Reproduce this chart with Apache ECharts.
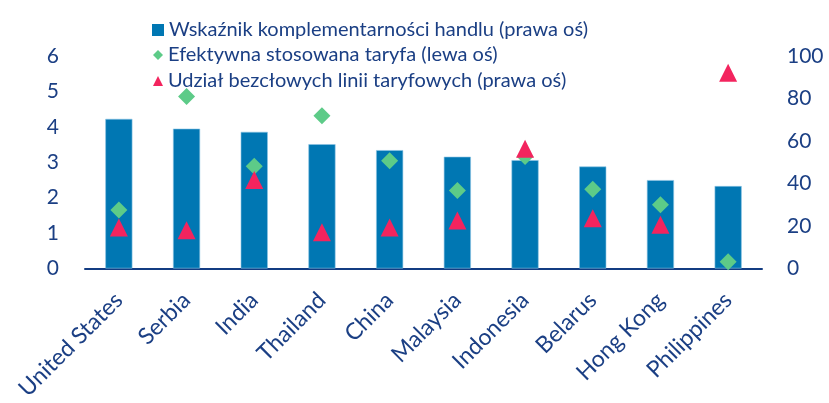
<!DOCTYPE html>
<html><head><meta charset="utf-8">
<script src="https://cdn.jsdelivr.net/npm/echarts@6/dist/echarts.min.js"></script>
<style>html,body{margin:0;padding:0;background:#fff}#c{width:829px;height:403px}</style>
</head><body><div id="c"></div>
<script>
const categories = ['United States','Serbia','India','Thailand','China','Malaysia','Indonesia','Belarus','Hong Kong','Philippines'];
const complementarity = [70.4, 65.8, 64.3, 58.5, 55.7, 52.6, 51.0, 48.0, 41.6, 38.8];
const appliedTariff = [1.65, 4.86, 2.89, 4.31, 3.04, 2.20, 3.16, 2.24, 1.80, 0.19];
const dutyFreeShare = [19.3, 18.0, 41.7, 17.1, 19.3, 22.6, 56.3, 23.6, 20.6, 92.1];
const seriesNames = ['Wskaźnik komplementarności handlu (prawa oś)','Efektywna stosowana taryfa (lewa oś)','Udział bezcłowych linii taryfowych (prawa oś)'];

const txt = '#1B3F84';
const font = 'Lato';
const legendText = {color:txt, fontFamily:font, fontSize:20, lineHeight:22};
const chart = echarts.init(document.getElementById('c'));
chart.setOption({
  animation:false,
  legend:[
    {left:147, top:14, itemWidth:12, itemHeight:12, itemGap:0, selectedMode:false, textStyle:legendText, itemStyle:{borderWidth:0},
     data:[{name:seriesNames[0],icon:'rect'}]},
    {left:148, top:39, itemWidth:10, itemHeight:10, itemGap:0, selectedMode:false, textStyle:legendText,
     data:[{name:seriesNames[1],icon:'diamond'}]},
    {left:148, top:65, itemWidth:10, itemHeight:10, itemGap:0, selectedMode:false, textStyle:legendText,
     data:[{name:seriesNames[2],icon:'triangle'}]}
  ],
  grid:{left:85,right:67,top:56,bottom:134.5},
  xAxis:{type:'category',data:categories,
    axisLine:{lineStyle:{color:'#133C82',width:2}},axisTick:{show:false},
    axisLabel:{rotate:45,color:txt,fontFamily:font,fontSize:23,margin:28,interval:0}},
  yAxis:[
    {type:'value',min:0,max:6,interval:1,splitLine:{show:false},axisLine:{show:false},axisTick:{show:false},
     axisLabel:{color:txt,fontFamily:font,fontSize:21,margin:26}},
    {type:'value',min:0,max:100,interval:20,splitLine:{show:false},axisLine:{show:false},axisTick:{show:false},
     axisLabel:{color:txt,fontFamily:font,fontSize:21,margin:25}}
  ],
  series:[
    {name:seriesNames[0],type:'bar',yAxisIndex:1,data:complementarity,barCategoryGap:'60%',
     itemStyle:{color:'#0077B3',borderColor:'#8CC4E4',borderWidth:0.6}},
    {name:seriesNames[1],type:'scatter',yAxisIndex:0,data:appliedTariff,symbol:'diamond',symbolSize:[17,17],
     itemStyle:{color:'#5DCB88',opacity:1},z:3},
    {name:seriesNames[2],type:'scatter',yAxisIndex:1,data:dutyFreeShare,symbol:'triangle',symbolSize:[18,18],
     itemStyle:{color:'#F3245E',opacity:1},z:4}
  ]
});
</script></body></html>
